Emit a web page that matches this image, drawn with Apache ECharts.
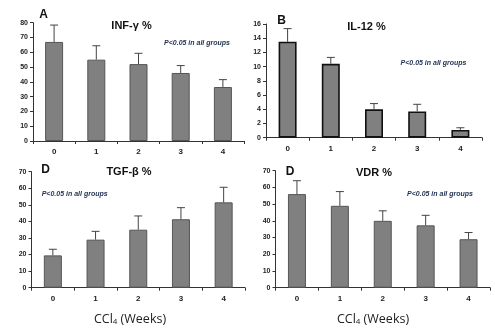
<!DOCTYPE html>
<html>
<head>
<meta charset="utf-8">
<script src="https://cdn.jsdelivr.net/npm/echarts@6/dist/echarts.min.js"></script>
<style>
html,body{margin:0;padding:0;background:#fff;}
#chart{width:495px;height:334px;}
</style>
</head>
<body>
<div id="chart"></div>
<script>
// Weeks of CCl4 exposure
const weeks = ['0', '1', '2', '3', '4'];

// Panel A: INF-gamma (% mean, SD)
const infMean = [67, 55, 52, 46, 36.5];
const infErr = [11.4, 9.4, 7.3, 5, 5];

// Panel B: IL-12
const il12Mean = [13.5, 10.4, 4.0, 3.7, 1.1];
const il12Err = [1.85, 0.9, 0.8, 1.0, 0.3];

// Panel C: TGF-beta
const tgfMean = [19.5, 29, 35, 41.3, 51.5];
const tgfErr = [3.7, 5, 8.3, 7, 9.1];

// Panel D: VDR
const vdrMean = [56, 49, 40, 37.3, 29];
const vdrErr = [8, 8.5, 6, 6, 4];

const panels = [
  { mean: infMean, err: infErr, max: 80, interval: 10,
    grid: { left: 33, top: 22.7, width: 211, height: 118.3 }, border: '#555', bw: 1 },
  { mean: il12Mean, err: il12Err, max: 16, interval: 2,
    grid: { left: 266, top: 24, width: 216, height: 113.7 }, border: '#111', bw: 1.6 },
  { mean: tgfMean, err: tgfErr, max: 70, interval: 10,
    grid: { left: 31.5, top: 171.7, width: 213.5, height: 116 }, border: '#555', bw: 1 },
  { mean: vdrMean, err: vdrErr, max: 70, interval: 10,
    grid: { left: 275.5, top: 170.7, width: 214.5, height: 117 }, border: '#555', bw: 1 }
];

const axisFont = { fontFamily: 'Liberation Sans, Arial, sans-serif', fontWeight: 'bold', color: '#222' };

const grids = [], xAxes = [], yAxes = [], series = [];
panels.forEach((p, i) => {
  grids.push(Object.assign({ containLabel: false }, p.grid));
  xAxes.push({
    type: 'category', gridIndex: i, data: weeks,
    axisLine: { lineStyle: { color: '#333', width: 1 } },
    axisTick: { show: true, length: 3, alignWithLabel: false, lineStyle: { color: '#333' } },
    axisLabel: Object.assign({ fontSize: 8, margin: 7 }, axisFont)
  });
  yAxes.push({
    type: 'value', gridIndex: i, min: 0, max: p.max, interval: p.interval,
    axisLine: { show: true, lineStyle: { color: '#333', width: 1 } },
    axisTick: { show: true, length: 3, lineStyle: { color: '#333' } },
    splitLine: { show: false },
    axisLabel: Object.assign({ fontSize: 7, margin: 5 }, axisFont)
  });
  series.push({
    type: 'bar', xAxisIndex: i, yAxisIndex: i, data: p.mean,
    barWidth: 18, silent: true,
    itemStyle: { color: '#808080', borderColor: p.border, borderWidth: p.bw }
  });
  // upward-only error bars with a short cap
  series.push({
    type: 'custom', xAxisIndex: i, yAxisIndex: i, silent: true, z: 3,
    data: p.mean.map((m, k) => [k, m, m + p.err[k]]),
    renderItem: function (params, api) {
      const base = api.coord([api.value(0), api.value(1)]);
      const top = api.coord([api.value(0), api.value(2)]);
      const s = { stroke: '#444', lineWidth: 1 };
      return {
        type: 'group',
        children: [
          { type: 'line', shape: { x1: base[0], y1: base[1], x2: top[0], y2: top[1] }, style: s },
          { type: 'line', shape: { x1: top[0] - 4, y1: top[1], x2: top[0] + 4, y2: top[1] }, style: s }
        ]
      };
    }
  });
});

const titleStyle = { fontFamily: 'Liberation Sans, Arial, sans-serif', fontWeight: 'bold', fontSize: 11, fill: '#111' };
const letterStyle = { fontFamily: 'Liberation Sans, Arial, sans-serif', fontWeight: 'bold', fontSize: 12, fill: '#111' };
const pStyle = { fontFamily: 'Liberation Sans, Arial, sans-serif', fontStyle: 'italic', fontWeight: 'bold', fontSize: 7, fill: '#1f3050' };

function txt(text, x, y, style, align) {
  return { type: 'text', x: x, y: y,
    style: Object.assign({ text: text, textAlign: align || 'center', textVerticalAlign: 'middle' }, style) };
}

const graphics = [
  txt('A', 43.5, 15, letterStyle),
  txt('INF-γ %', 131.5, 26, titleStyle),
  txt('P<0.05 in all groups', 197, 43, pStyle),
  txt('B', 281.7, 20.7, letterStyle),
  txt('IL-12 %', 366.5, 26.7, titleStyle),
  txt('P<0.05 in all groups', 433.5, 63, pStyle),
  txt('D', 45.5, 170, letterStyle),
  txt('TGF-β %', 129, 172.3, titleStyle),
  txt('P<0.05 in all groups', 41.7, 194.3, pStyle, 'left'),
  txt('D', 290, 172, letterStyle),
  txt('VDR %', 374, 173, titleStyle),
  txt('P<0.05 in all groups', 440, 194.3, pStyle),
  {
    type: 'text', x: 130, y: 319,
    style: { text: 'CCl{s|4} (Weeks)', textAlign: 'center', textVerticalAlign: 'middle',
      fontFamily: 'Open Sans, Liberation Sans, sans-serif', fontSize: 12.5, fill: '#222',
      rich: { s: { fontSize: 8, verticalAlign: 'bottom', padding: [6, 0, 0, 0], fontFamily: 'Open Sans, sans-serif', fill: '#222' } } }
  },
  {
    type: 'text', x: 373, y: 319,
    style: { text: 'CCl{s|4} (Weeks)', textAlign: 'center', textVerticalAlign: 'middle',
      fontFamily: 'Open Sans, Liberation Sans, sans-serif', fontSize: 12.5, fill: '#222',
      rich: { s: { fontSize: 8, verticalAlign: 'bottom', padding: [6, 0, 0, 0], fontFamily: 'Open Sans, sans-serif', fill: '#222' } } }
  }
];

const chart = echarts.init(document.getElementById('chart'), null, { renderer: 'canvas' });
chart.setOption({
  animation: false,
  backgroundColor: '#fff',
  grid: grids,
  xAxis: xAxes,
  yAxis: yAxes,
  series: series,
  graphic: graphics
});
</script>
</body>
</html>
